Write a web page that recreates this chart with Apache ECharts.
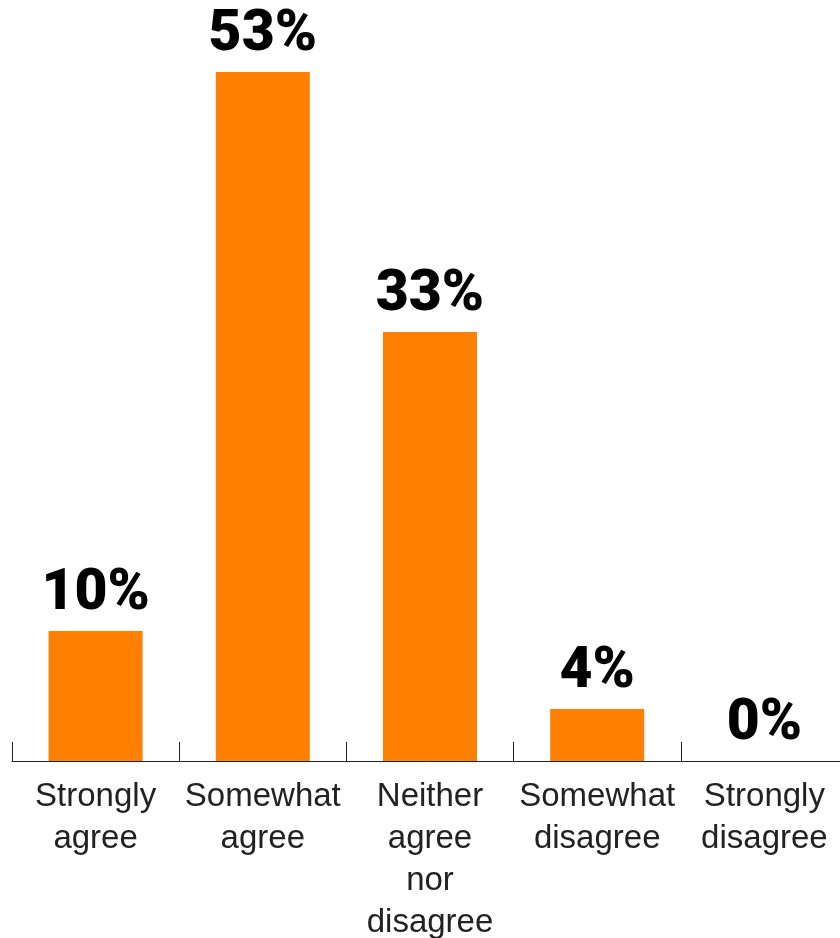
<!DOCTYPE html>
<html>
<head>
<meta charset="utf-8">
<script src="https://cdn.jsdelivr.net/npm/echarts@6/dist/echarts.min.js"></script>
<style>
  html, body { margin: 0; padding: 0; background: #fff; }
  #chart { width: 840px; height: 938px; }
</style>
</head>
<body>
<div id="chart"></div>
<script>
  // categories and shares (%)
  var categories = ['Strongly\nagree', 'Somewhat\nagree', 'Neither\nagree\nnor\ndisagree', 'Somewhat\ndisagree', 'Strongly\ndisagree'];
  var shares = [10, 53, 33, 4, 0];

  var chart = echarts.init(document.getElementById('chart'));
  chart.setOption({
    animation: false,
    grid: {
      left: 12,
      right: -8,
      top: 72,
      bottom: 177,
      outerBoundsMode: 'none'
    },
    xAxis: {
      type: 'category',
      data: categories,
      axisLine: { show: true, lineStyle: { color: '#222', width: 1 } },
      axisTick: { show: true, interval: 0, inside: true, length: 19, lineStyle: { color: '#222', width: 1 } },
      axisLabel: {
        interval: 0,
        margin: 15,
        fontFamily: 'Liberation Sans',
        fontSize: 33,
        lineHeight: 42,
        color: '#222'
      }
    },
    yAxis: {
      type: 'value',
      min: 0,
      max: 53,
      show: false
    },
    series: [{
      type: 'bar',
      data: shares,
      barWidth: 94,
      itemStyle: { color: '#FF8000' },
      label: {
        show: true,
        position: 'top',
        distance: 8,
        formatter: '{c}%',
        fontFamily: 'Roboto',
        fontWeight: 900,
        fontSize: 57,
        color: '#000'
      }
    }]
  });
</script>
</body>
</html>
